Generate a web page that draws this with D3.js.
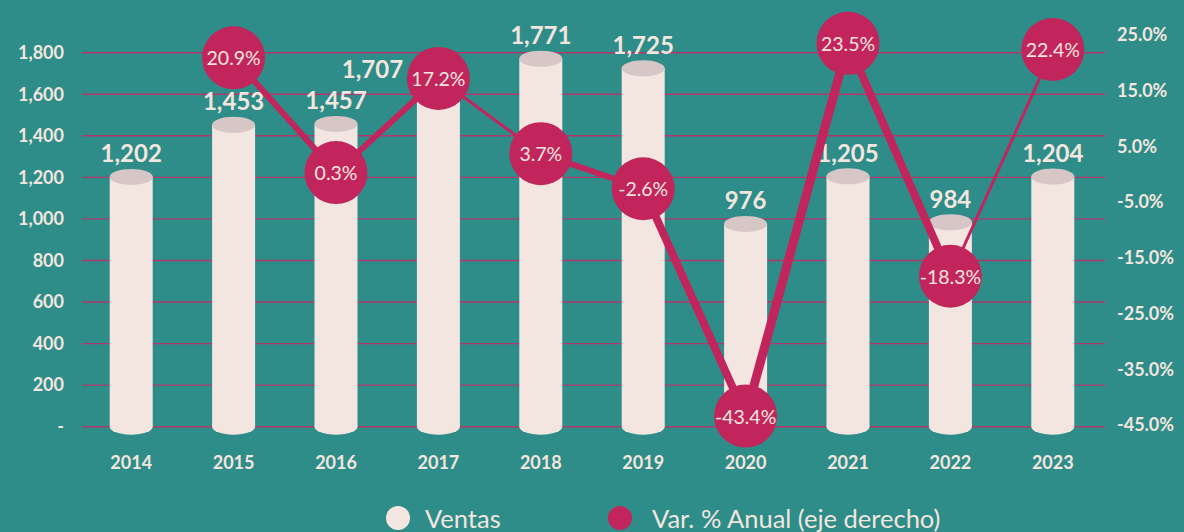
<!DOCTYPE html>
<html>
<head>
<meta charset="utf-8">
<script src="https://cdn.jsdelivr.net/npm/d3@7"></script>
<style>
  html, body { margin: 0; padding: 0; background: #2e8c89; }
  svg { display: block; }
  text { font-family: Lato, "Open Sans", sans-serif; fill: #f3e6df; }
</style>
</head>
<body>
<svg id="chart" width="1184" height="532"></svg>
<script>
// Ventas anuales y variación porcentual
const years = ['2014', '2015', '2016', '2017', '2018', '2019', '2020', '2021', '2022', '2023'];
const ventas = [1202, 1453, 1457, 1707, 1771, 1725, 976, 1205, 984, 1204];
const varAnual = [null, 20.9, 0.3, 17.2, 3.7, -2.6, -43.4, 23.5, -18.3, 22.4];
const leftTicks = [0, 200, 400, 600, 800, 1000, 1200, 1400, 1600, 1800];
const rightTicks = [25, 15, 5, -5, -15, -25, -35, -45];

// per-year label nudges [dx, dy] for the sales labels
const labelNudge = { '2017': [-66, 20] };
// stroke width of each line segment (between consecutive points)
const segWidth = { '2015': 6, '2016': 6, '2017': 3, '2018': 6, '2019': 8, '2020': 9, '2021': 8, '2022': 3 };

const BAR = '#f3e6e0', BAR_TOP = '#d6c6c5', PINK = '#c2255c', GRID = '#b0386c';

// hyphen-minus for negative numbers
const pct = d => d3.format('.1f')(d).replace('\u2212', '-') + '%';

const svg = d3.select('#chart');
const plotL = 82, plotR = 1105;

const x = d3.scaleBand().domain(years).range([80, 1104]).padding(0);
const yL = d3.scaleLinear().domain([0, 1800]).range([426.7, 52.7]);
const yR = d3.scaleLinear().domain([-45, 25]).range([425, 35]);

// gridlines
svg.append('g').selectAll('line').data(leftTicks).join('line')
  .attr('x1', plotL).attr('x2', plotR)
  .attr('y1', d => yL(d)).attr('y2', d => yL(d))
  .attr('stroke', GRID).attr('stroke-width', 1.4);

function styleAxis(g, size) {
  g.select('.domain').remove();
  g.selectAll('text').style('font-size', size + 'px').style('font-weight', 700)
    .style('font-family', 'Lato, sans-serif').attr('fill', '#f0e4de');
}

// left axis
const axL = svg.append('g').attr('transform', `translate(${plotL},0)`)
  .call(d3.axisLeft(yL).tickValues(leftTicks).tickSize(0).tickPadding(18)
    .tickFormat(d => d === 0 ? '-' : d3.format(',')(d)));
styleAxis(axL, 18);

// right axis
const axR = svg.append('g').attr('transform', `translate(${plotR},0)`)
  .call(d3.axisRight(yR).tickValues(rightTicks).tickSize(0).tickPadding(12)
    .tickFormat(pct));
styleAxis(axR, 18);

// bottom axis
const axB = svg.append('g').attr('transform', 'translate(0,450)')
  .call(d3.axisBottom(x).tickSize(0).tickPadding(6));
styleAxis(axB, 18);

// cylinders
const bw = 43, ry = 8;
const bars = svg.append('g').selectAll('g').data(years).join('g')
  .attr('transform', d => `translate(${x(d) + x.bandwidth() / 2},0)`);
bars.append('ellipse').attr('cx', 0).attr('cy', yL(0)).attr('rx', bw / 2).attr('ry', ry).attr('fill', BAR);
bars.append('rect').attr('x', -bw / 2).attr('width', bw)
  .attr('y', (d, i) => yL(ventas[i])).attr('height', (d, i) => yL(0) - yL(ventas[i]))
  .attr('fill', BAR);
bars.append('ellipse').attr('cx', 0).attr('cy', (d, i) => yL(ventas[i])).attr('rx', bw / 2).attr('ry', ry).attr('fill', BAR_TOP);

// sales labels
svg.append('g').selectAll('text').data(years).join('text')
  .attr('x', (d, i) => x(d) + x.bandwidth() / 2 + (labelNudge[d] ? labelNudge[d][0] : 0))
  .attr('y', (d, i) => yL(ventas[i]) - 24 + (labelNudge[d] ? labelNudge[d][1] : 0))
  .attr('text-anchor', 'middle').attr('dominant-baseline', 'central')
  .style('font-size', '24px').style('font-weight', 700)
  .text((d, i) => d3.format(',')(ventas[i]));

// annual change line
const pts = years.map((d, i) => ({ year: d, v: varAnual[i] })).filter(p => p.v !== null);
const px = p => x(p.year) + x.bandwidth() / 2;
const segs = d3.pairs(pts);
svg.append('g').selectAll('line').data(segs).join('line')
  .attr('x1', s => px(s[0])).attr('y1', s => yR(s[0].v))
  .attr('x2', s => px(s[1])).attr('y2', s => yR(s[1].v))
  .attr('stroke', PINK).attr('stroke-width', s => segWidth[s[0].year]);

const dots = svg.append('g').selectAll('g').data(pts).join('g')
  .attr('transform', p => `translate(${px(p)},${yR(p.v)})`);
dots.append('circle').attr('r', 31.5).attr('fill', PINK);
dots.append('text').attr('text-anchor', 'middle').attr('dominant-baseline', 'central')
  .style('font-size', '19.5px').style('font-weight', 400)
  .text(p => pct(p.v));

// legend
const legend = [
  { label: 'Ventas', color: BAR, cx: 398, tx: 425 },
  { label: 'Var. % Anual (eje derecho)', color: PINK, cx: 620, tx: 652 }
];
const lg = svg.append('g').selectAll('g').data(legend).join('g');
lg.append('circle').attr('cx', d => d.cx).attr('cy', 518).attr('r', 12).attr('fill', d => d.color);
lg.append('text').attr('x', d => d.tx).attr('y', 518).attr('dominant-baseline', 'central')
  .style('font-size', '25.5px').style('font-weight', 400).text(d => d.label);
</script>
</body>
</html>
